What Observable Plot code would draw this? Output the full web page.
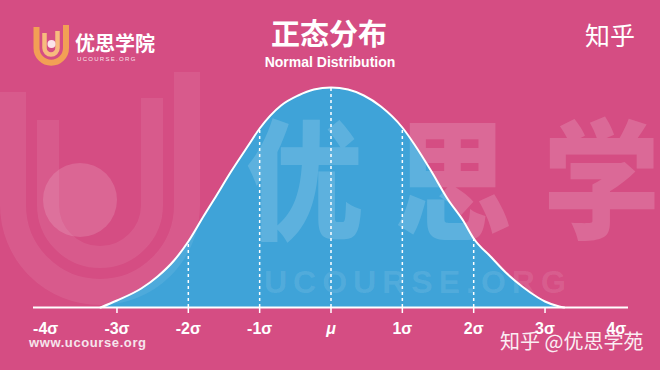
<!DOCTYPE html>
<html>
<head>
<meta charset="utf-8">
<script src="https://cdn.jsdelivr.net/npm/d3@7"></script>
<script src="https://cdn.jsdelivr.net/npm/@observablehq/plot@0.6"></script>
<style>
  html, body { margin: 0; padding: 0; }
  #wrap { position: relative; width: 660px; height: 370px; background: #d54d83; overflow: hidden; }
  #wrap > svg { position: absolute; left: 0; top: 0; }
  #deco { pointer-events: none; }
</style>
</head>
<body>
<div id="wrap">
  <div id="chart"></div>
  <svg id="deco" width="660" height="370" xmlns="http://www.w3.org/2000/svg">
    <!-- large faint logo watermark on the left -->
    <g fill="none" stroke="#ffffff" stroke-opacity="0.08">
      <path d="M13,92 L13,205 A87,87 0 0 0 187,205 L187,72" stroke-width="26"/>
      <path d="M48,120 L48,205 A52,52 0 0 0 152,205 L152,98" stroke-width="22"/>
    </g>
    <circle cx="80" cy="200" r="37" fill="#ffffff" fill-opacity="0.14"/>
    <!-- small logo -->
    <g fill="none" stroke-linecap="butt">
      <path d="M36.5,27 L36.5,48 A14.75,14.75 0 0 0 66,48 L66,25" stroke="#f2a055" stroke-width="6"/>
      <path d="M44.5,33 L44.5,48 A6.5,6.5 0 0 0 57.5,48 L57.5,31" stroke="#f7bb7e" stroke-width="4.5"/>
    </g>
    <circle cx="51.5" cy="44" r="4" fill="#fbe3ea"/>
    <g font-family="'Noto Sans CJK SC', sans-serif" fill="#ffffff">
      <text x="75" y="51" font-size="20" font-weight="700">优思学院</text>
      <text x="329" y="45" font-size="29" font-weight="700" text-anchor="middle">正态分布</text>
      <text x="585" y="45" font-size="25" font-weight="400">知乎</text>
      <text x="500" y="349" font-size="20" font-weight="400" fill="#fbeef3">知乎 @优思学苑</text>
    </g>
    <g font-family="'Liberation Sans', Arial, sans-serif" fill="#ffffff">
      <text x="77" y="61" font-size="6" letter-spacing="1.3" fill-opacity="0.85">UCOURSE.ORG</text>
      <text x="330" y="67" font-size="14" font-weight="700" text-anchor="middle">Normal Distribution</text>
      <text x="29" y="347" font-size="13" font-weight="700" letter-spacing="0.6" fill="#f6e4ec">www.ucourse.org</text>
    </g>
    <!-- big watermark text over the chart -->
    <text transform="translate(246,229) scale(0.9,1)" x="0 165 330" font-family="'Noto Sans CJK SC', sans-serif" font-size="130" font-weight="900" fill="#ffffff" fill-opacity="0.16">优思学</text>
    <text x="264" y="293" font-family="'Liberation Sans', Arial, sans-serif" font-size="32" font-weight="700" letter-spacing="6" fill="#ffffff" fill-opacity="0.1">UCOURSE.ORG</text>
  </svg>
</div>
<script>
// Curve: position in σ units and height of the bell (relative units)
const sigmaPos = [-3.23, -3.0, -2.66, -2.43, -2.2, -2.0, -1.78, -1.64, -1.4, -1.16, -1.0, -0.7, -0.46, -0.24, 0,
                  0.24, 0.46, 0.7, 1.0, 1.17, 1.4, 1.64, 1.86, 2.0, 2.25, 2.45, 2.68, 2.9, 3.0, 3.2, 3.27];
const density  = [0, 7, 19, 31, 47, 66, 92, 108, 136, 162, 179, 202, 212, 218, 220,
                  218, 212, 201, 180, 163, 137, 108, 86, 69, 50, 35, 21, 10, 6, 1, 0];
const tickValues = [-4, -3, -2, -1, 0, 1, 2, 3, 4];
const tickLabels = ["-4σ", "-3σ", "-2σ", "-1σ", "μ", "1σ", "2σ", "3σ", "4σ"];
const tickMarks  = [-3, -2, -1, 0, 1, 2, 3];
const guideLines = [-2, -1, 0, 1, 2];

const data = sigmaPos.map((s, i) => ({s, h: density[i]}));
const guides = data.filter(d => guideLines.includes(d.s));

const blue = "#3fa3d8";

const chart = Plot.plot({
  width: 660,
  height: 370,
  marginLeft: 33,
  marginRight: 32,
  marginTop: 87,
  marginBottom: 63,
  style: {background: "transparent", fontFamily: "'Liberation Sans', Arial, sans-serif", overflow: "visible"},
  x: {domain: [-4.17, 4.17], label: null},
  y: {domain: [0, 220], axis: null, label: null},
  marks: [
    Plot.areaY(data, {x: "s", y: "h", fill: blue, curve: "monotone-x"}),
    Plot.ruleX(guides, {x: "s", y1: 0, y2: "h", stroke: "white", strokeWidth: 1.5, strokeDasharray: "3,3"}),
    Plot.lineY(data, {x: "s", y: "h", stroke: "white", strokeWidth: 2, curve: "monotone-x"}),
    Plot.ruleY([0], {stroke: "white", strokeWidth: 2}),
    Plot.axisX(tickMarks, {tickSize: 6, tickFormat: () => "", stroke: "white", strokeWidth: 1.5, label: null}),
    Plot.axisX(tickValues, {tickSize: 0, tickPadding: 15, fontSize: 16, fontWeight: "bold", fill: "white", label: null,
      tickFormat: d => tickLabels[tickValues.indexOf(d)]})
  ]
});
document.getElementById("chart").appendChild(chart);
chart.querySelectorAll("text").forEach(t => { if (t.textContent === "μ") t.setAttribute("font-style", "italic"); });
</script>
</body>
</html>
